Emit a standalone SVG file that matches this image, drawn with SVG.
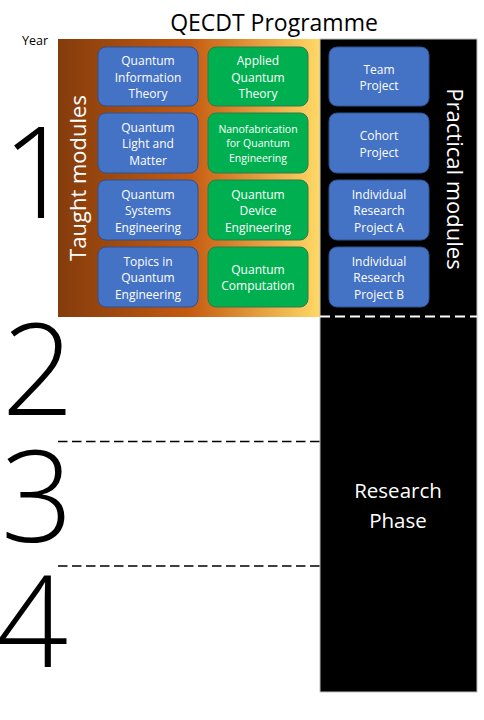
<svg xmlns="http://www.w3.org/2000/svg" width="484" height="720" viewBox="0 0 484 720">
<style>
text{font-family:"Open Sans","Noto Sans","Liberation Sans",sans-serif}
.b{fill:#4472C4;stroke:#2F528F;stroke-width:1}
.g{fill:#00B050;stroke:#2E7D46;stroke-width:1}
.t{fill:#fff;font-size:12px;text-anchor:middle}
.s{fill:#fff;font-size:10.5px;text-anchor:middle}
.num{fill:#000;font-size:127px;text-anchor:middle;font-weight:300}
</style>
<defs>
<linearGradient id="grad" x1="0" y1="0" x2="1" y2="0">
<stop offset="0" stop-color="#843C0C"/>
<stop offset="0.5" stop-color="#C55A11"/>
<stop offset="1" stop-color="#FFD966"/>
</linearGradient>
</defs>
<rect id="bg" width="484" height="720" fill="#fff"/>
<text x="274" y="31" font-size="23" text-anchor="middle" fill="#000">QECDT Programme</text>
<text x="22" y="45" font-size="12.5" fill="#000">Year</text>
<rect id="taught" x="58" y="39" width="262" height="278" fill="url(#grad)"/>
<rect id="practical" x="320" y="39" width="157" height="653" fill="#000" stroke="#bfbfbf" stroke-width="1"/>
<text transform="translate(86,178) rotate(-90)" font-size="22" fill="#fff" text-anchor="middle">Taught modules</text>
<text transform="translate(447,179) rotate(90)" font-size="22" fill="#fff" text-anchor="middle">Practical modules</text>
<text class="num" x="38" y="218">1</text>
<text class="num" x="38" y="415">2</text>
<text class="num" x="37" y="542">3</text>
<text class="num" x="32" y="667">4</text>
<g id="connectors">
<line x1="320" y1="316.5" x2="477" y2="316.5" stroke="#fff" stroke-width="2" stroke-dasharray="10 5"/>
<line x1="58" y1="441.5" x2="320" y2="441.5" stroke="#000" stroke-width="1.5" stroke-dasharray="9.5 4.5"/>
<line x1="58" y1="566" x2="320" y2="566" stroke="#000" stroke-width="1.5" stroke-dasharray="9.5 4.5"/>
</g>
<g id="qit"><rect class="b" x="98" y="47" width="100" height="59" rx="8"/><text class="t" x="148" y="65">Quantum</text><text class="t" x="148" y="81.5">Information</text><text class="t" x="148" y="98">Theory</text></g>
<g id="aqt"><rect class="g" x="208" y="47" width="100" height="59" rx="8"/><text class="t" x="258" y="65">Applied</text><text class="t" x="258" y="81.5">Quantum</text><text class="t" x="258" y="98">Theory</text></g>
<g id="qlm"><rect class="b" x="98" y="113" width="100" height="60" rx="8"/><text class="t" x="148" y="131.5">Quantum</text><text class="t" x="148" y="148">Light and</text><text class="t" x="148" y="164.5">Matter</text></g>
<g id="nano"><rect class="g" x="208" y="113" width="100" height="60" rx="8"/><text class="s" x="258" y="133">Nanofabrication</text><text class="s" x="258" y="147.3">for Quantum</text><text class="s" x="258" y="161.6">Engineering</text></g>
<g id="qse"><rect class="b" x="98" y="180" width="100" height="60" rx="8"/><text class="t" x="148" y="198.5">Quantum</text><text class="t" x="148" y="215">Systems</text><text class="t" x="148" y="231.5">Engineering</text></g>
<g id="qde"><rect class="g" x="208" y="180" width="100" height="60" rx="8"/><text class="t" x="258" y="198.5">Quantum</text><text class="t" x="258" y="215">Device</text><text class="t" x="258" y="231.5">Engineering</text></g>
<g id="tqe"><rect class="b" x="98" y="247" width="100" height="60" rx="8"/><text class="t" x="148" y="265.5">Topics in</text><text class="t" x="148" y="282">Quantum</text><text class="t" x="148" y="298.5">Engineering</text></g>
<g id="qc"><rect class="g" x="208" y="247" width="100" height="60" rx="8"/><text class="t" x="258" y="273.5">Quantum</text><text class="t" x="258" y="290">Computation</text></g>
<g id="team"><rect class="b" x="329" y="47" width="100" height="59" rx="8"/><text class="t" x="379" y="73.5">Team</text><text class="t" x="379" y="90">Project</text></g>
<g id="cohort"><rect class="b" x="329" y="113" width="100" height="60" rx="8"/><text class="t" x="379" y="140">Cohort</text><text class="t" x="379" y="156.5">Project</text></g>
<g id="ipa"><rect class="b" x="329" y="180" width="100" height="60" rx="8"/><text class="t" x="379" y="198.5">Individual</text><text class="t" x="379" y="215">Research</text><text class="t" x="379" y="231.5">Project A</text></g>
<g id="ipb"><rect class="b" x="329" y="247" width="100" height="60" rx="8"/><text class="t" x="379" y="265.5">Individual</text><text class="t" x="379" y="282">Research</text><text class="t" x="379" y="298.5">Project B</text></g>
<g id="research"><text x="398" y="498" font-size="20.5" fill="#fff" text-anchor="middle">Research</text><text x="398" y="527.5" font-size="20.5" fill="#fff" text-anchor="middle">Phase</text></g>
</svg>
